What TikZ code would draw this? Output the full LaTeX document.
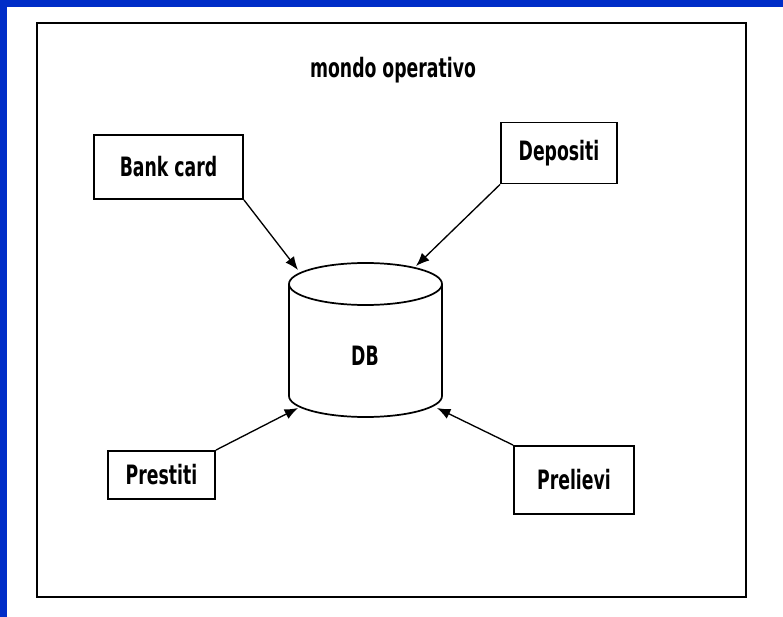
\documentclass[tikz,border=0pt]{standalone}
\usepackage{fontspec}
\setmainfont{DejaVu Sans Condensed}[FakeStretch=0.72]
\usetikzlibrary{arrows.meta}

\definecolor{slideblue}{RGB}{0,45,200}
\tikzset{
    opbox/.style={draw,line width=1.4pt,inner sep=0pt,font=\bfseries\fontsize{20}{22}\selectfont},
    feed/.style={-{Latex[length=10pt,width=8pt]},line width=1pt}
}

\begin{document}
\begin{tikzpicture}[x=0.75pt,y=-0.75pt]
    \fill[white] (0,0) rectangle (783,617);
    \fill[slideblue] (0,0) rectangle (7,617);
    \fill[slideblue] (0,0) rectangle (783,7);
    \draw[line width=1.5pt] (37,23) rectangle (746,597);

    \node[font=\bfseries\fontsize{20}{22}\selectfont] (title) at (393,70) {mondo operativo};

    \node[opbox,minimum width=111.75pt,minimum height=48pt] (card) at (168.5,167) {Bank card\hspace{7pt}};
    \node[opbox,minimum width=87pt,minimum height=45.75pt] (depo) at (559,153) {Depositi};
    \node[opbox,minimum width=80.25pt,minimum height=36pt] (prest) at (161.5,475) {Prestiti\hspace{8pt}};
    \node[opbox,minimum width=90pt,minimum height=51pt] (prel) at (574,480) {Prelievi};

    % database
    \coordinate (dbtop) at (365.5,284);
    \draw[line width=1.3pt] (dbtop) ellipse (76.5 and 21);
    \draw[line width=1.3pt] (289,284) -- (289,396)
        arc[start angle=180,end angle=0,x radius=76.5,y radius=21] -- (442,284);
    \node[font=\bfseries\fontsize{20}{22}\selectfont] (db) at (365,356) {DB};

    \coordinate (dbnw) at (298,270);
    \coordinate (dbne) at (416,266);
    \coordinate (dbsw) at (298,408);
    \coordinate (dbse) at (437,408);

    \foreach \from/\to in {card.south east/dbnw,depo.south west/dbne,prest.north east/dbsw,prel.north west/dbse}
        \draw[feed] (\from) -- (\to);
\end{tikzpicture}
\end{document}
